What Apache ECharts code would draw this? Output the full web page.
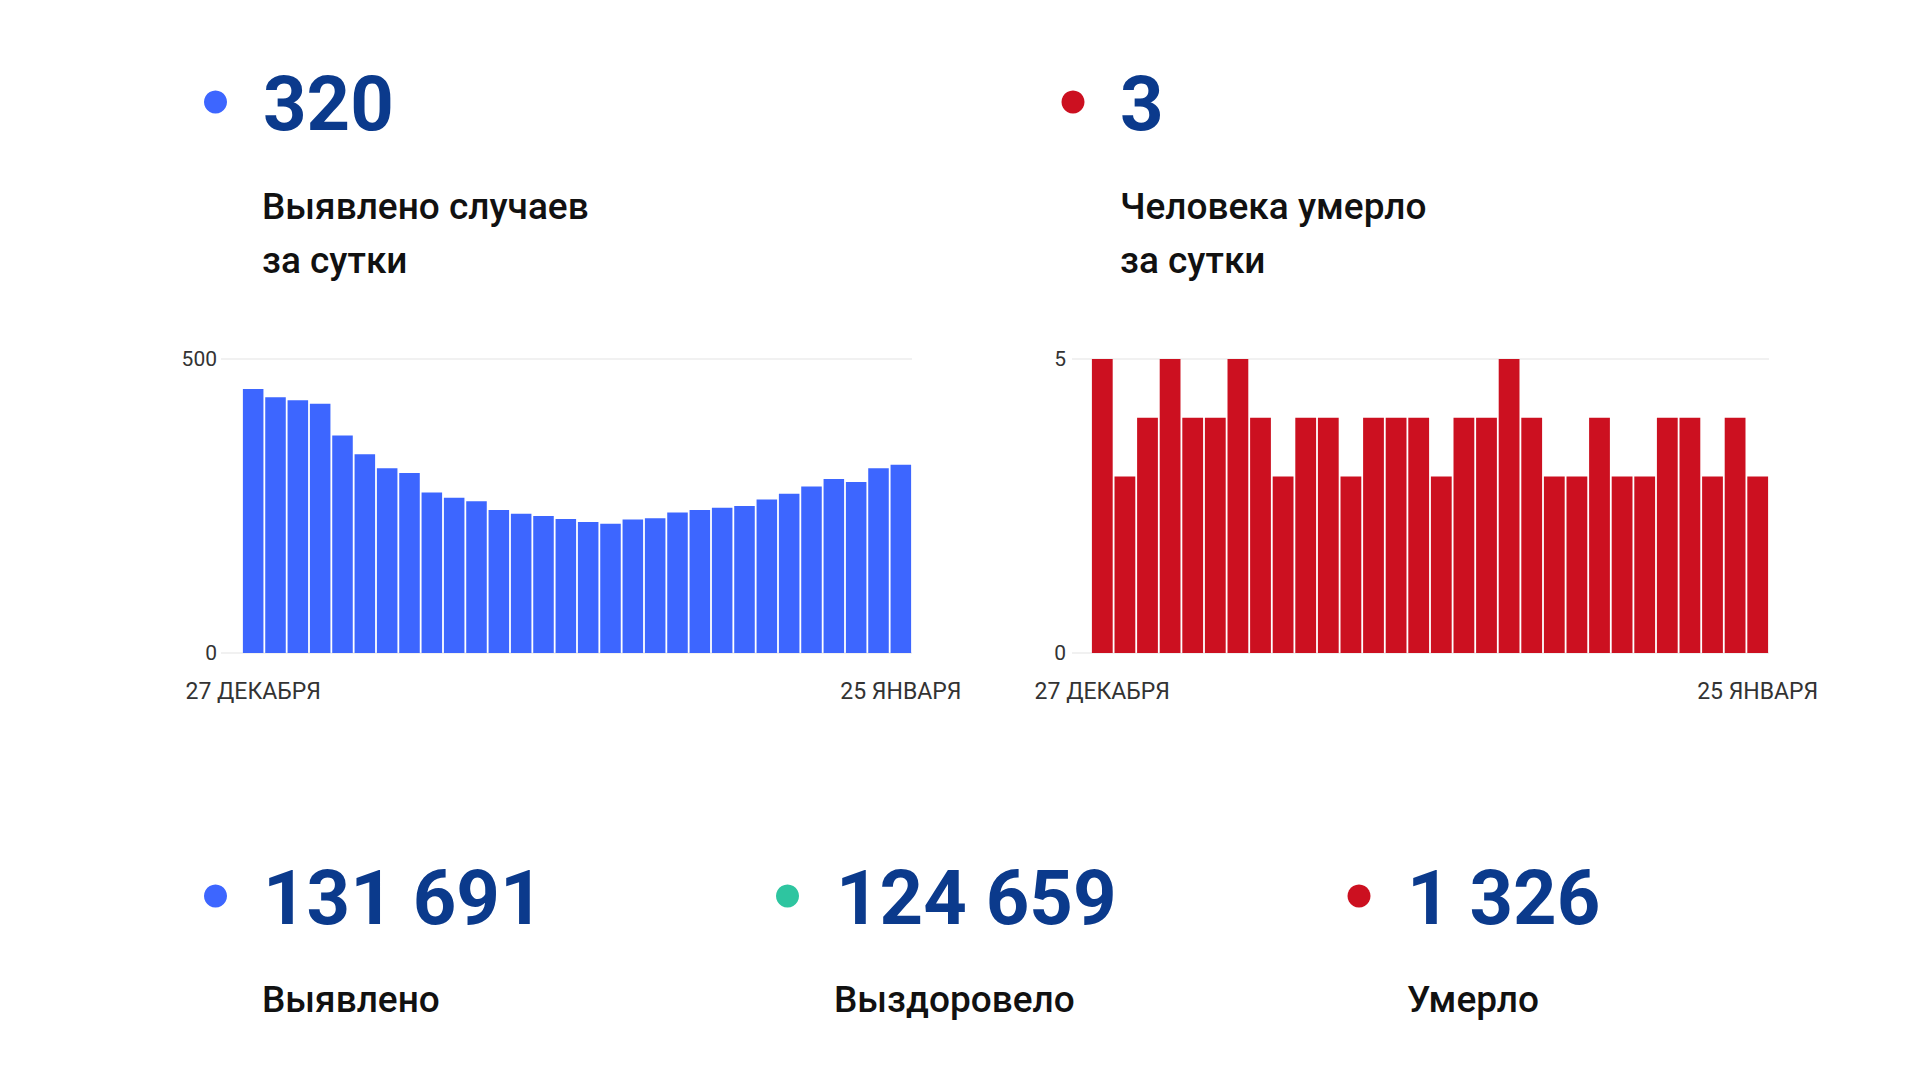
<!DOCTYPE html>
<html>
<head>
<meta charset="utf-8">
<script src="https://cdn.jsdelivr.net/npm/echarts@6/dist/echarts.min.js"></script>
<style>
html,body{margin:0;padding:0;background:#fff;}
#chart{width:1920px;height:1080px;}
</style>
</head>
<body>
<div id="chart"></div>
<script>
const dates = ['27 ДЕКАБРЯ','28 ДЕКАБРЯ','29 ДЕКАБРЯ','30 ДЕКАБРЯ','31 ДЕКАБРЯ',
  '1 ЯНВАРЯ','2 ЯНВАРЯ','3 ЯНВАРЯ','4 ЯНВАРЯ','5 ЯНВАРЯ','6 ЯНВАРЯ','7 ЯНВАРЯ','8 ЯНВАРЯ',
  '9 ЯНВАРЯ','10 ЯНВАРЯ','11 ЯНВАРЯ','12 ЯНВАРЯ','13 ЯНВАРЯ','14 ЯНВАРЯ','15 ЯНВАРЯ',
  '16 ЯНВАРЯ','17 ЯНВАРЯ','18 ЯНВАРЯ','19 ЯНВАРЯ','20 ЯНВАРЯ','21 ЯНВАРЯ','22 ЯНВАРЯ',
  '23 ЯНВАРЯ','24 ЯНВАРЯ','25 ЯНВАРЯ'];
const dailyCases = [449,435,430,424,370,338,314,306,273,264,258,243,237,233,228,223,220,227,229,239,243,247,250,261,271,283,296,291,314,320];
const dailyDeaths = [5,3,4,5,4,4,5,4,3,4,4,3,4,4,4,3,4,4,5,4,3,3,4,3,3,4,4,3,4,3];
const casesTicks = [0, 500];
const deathsTicks = [0, 5];
const headlineCases = '320';
const headlineCasesLabel = ['Выявлено случаев', 'за сутки'];
const headlineDeaths = '3';
const headlineDeathsLabel = ['Человека умерло', 'за сутки'];
const totals = ['131 691', '124 659', '1 326'];
const totalsLabels = ['Выявлено', 'Выздоровело', 'Умерло'];

const BLUE = '#3d66ff', RED = '#cc1020', TEAL = '#2ec5a0', NAVY = '#0b3a8c';
const FONT = 'Roboto';

const chart = echarts.init(document.getElementById('chart'), null, {renderer: 'svg', width: 1920, height: 1080});

function lastIdx(){ return dates.length - 1; }

const bigNum = (x, cy, text) => ({type:'text', left:x, top:cy - 37, style:{text:text, font:'bold 76px ' + FONT, fill:NAVY, textVerticalAlign:'top'}});
const subText = (x, cy, text) => ({type:'text', left:x, top:cy - 18, style:{text:text, font:'500 37px ' + FONT, fill:'#111', textVerticalAlign:'top'}});
const dot = (cx, cy, color) => ({type:'circle', shape:{cx:cx, cy:cy, r:11.5}, style:{fill:color}});

const graphics = [
  dot(215.5, 102, BLUE), bigNum(263, 103, headlineCases),
  subText(262, 206, headlineCasesLabel[0]), subText(262, 260, headlineCasesLabel[1]),
  dot(1073, 102, RED), bigNum(1120, 103, headlineDeaths),
  subText(1120, 206, headlineDeathsLabel[0]), subText(1120, 260, headlineDeathsLabel[1]),
  dot(215.5, 896, BLUE), bigNum(263, 896.5, totals[0]), subText(262, 998.5, totalsLabels[0]),
  dot(787.5, 896, TEAL), bigNum(836, 896.5, totals[1]), subText(834, 998.5, totalsLabels[1]),
  dot(1359, 896, RED), bigNum(1407, 896.5, totals[2]), subText(1407, 998.5, totalsLabels[2])
];

const xLabel = {
  show:true, interval:0, margin:27, fontFamily:FONT, fontSize:23, color:'#333',
  formatter:(v, i) => (i === 0 || i === lastIdx()) ? v : ''
};

chart.setOption({
  backgroundColor:'#fff',
  animation:false,
  graphic: graphics,
  grid: [
    {left:221, right:1008, top:359, height:294},
    {left:242, right:1008, top:359, height:294},
    {left:1072, right:151, top:359, height:294},
    {left:1091, right:151, top:359, height:294}
  ],
  xAxis: [
    {gridIndex:0, type:'category', data:dates, show:false},
    {gridIndex:1, type:'category', data:dates, axisLine:{show:false}, axisTick:{show:false}, axisLabel:xLabel},
    {gridIndex:2, type:'category', data:dates, show:false},
    {gridIndex:3, type:'category', data:dates, axisLine:{show:false}, axisTick:{show:false}, axisLabel:xLabel}
  ],
  yAxis: [
    {gridIndex:0, type:'value', min:casesTicks[0], max:casesTicks[1], interval:casesTicks[1],
     axisLine:{show:false}, axisTick:{show:false},
     axisLabel:{margin:4, fontFamily:FONT, fontSize:21, color:'#333'},
     splitLine:{lineStyle:{color:'#ececec', width:1.5}}},
    {gridIndex:1, type:'value', min:casesTicks[0], max:casesTicks[1], show:false, splitLine:{show:false}},
    {gridIndex:2, type:'value', min:deathsTicks[0], max:deathsTicks[1], interval:deathsTicks[1],
     axisLine:{show:false}, axisTick:{show:false},
     axisLabel:{margin:6, fontFamily:FONT, fontSize:21, color:'#333'},
     splitLine:{lineStyle:{color:'#ececec', width:1.5}}},
    {gridIndex:3, type:'value', min:deathsTicks[0], max:deathsTicks[1], show:false, splitLine:{show:false}}
  ],
  series: [
    {type:'bar', xAxisIndex:1, yAxisIndex:1, data:dailyCases, barCategoryGap:'8%', itemStyle:{color:BLUE}},
    {type:'bar', xAxisIndex:3, yAxisIndex:3, data:dailyDeaths, barCategoryGap:'8%', itemStyle:{color:RED}}
  ]
});
</script>
</body>
</html>
